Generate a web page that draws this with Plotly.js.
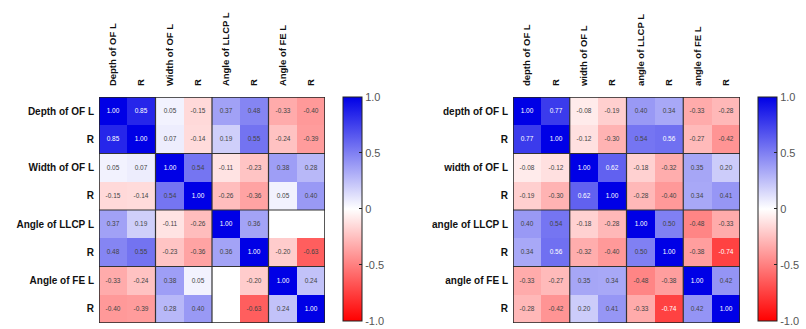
<!DOCTYPE html>
<html>
<head>
<meta charset="utf-8">
<script src="https://cdn.plot.ly/plotly-3.0.1.min.js"></script>
<style>html,body{margin:0;padding:0;background:#fff;}#chart{width:806px;height:329px;}</style>
</head>
<body>
<div id="chart"></div>
<script>
// Left matrix labels
const labelsLeft = ["Depth of OF L", "R", "Width of OF L", "R", "Angle of LLCP L", "R", "Angle of FE L", "R"];
// Right matrix labels
const labelsRight = ["depth of OF L", "R", "width of OF L", "R", "angle of LLCP L", "R", "angle of FE L", "R"];

const zLeft = [
  [1.00, 0.85, 0.05, -0.15, 0.37, 0.48, -0.33, -0.40],
  [0.85, 1.00, 0.07, -0.14, 0.19, 0.55, -0.24, -0.39],
  [0.05, 0.07, 1.00, 0.54, -0.11, -0.23, 0.38, 0.28],
  [-0.15, -0.14, 0.54, 1.00, -0.26, -0.36, 0.05, 0.40],
  [0.37, 0.19, -0.11, -0.26, 1.00, 0.36, null, null],
  [0.48, 0.55, -0.23, -0.36, 0.36, 1.00, -0.20, -0.63],
  [-0.33, -0.24, 0.38, 0.05, null, -0.20, 1.00, 0.24],
  [-0.40, -0.39, 0.28, 0.40, null, -0.63, 0.24, 1.00]
];

const zRight = [
  [1.00, 0.77, -0.08, -0.19, 0.40, 0.34, -0.33, -0.28],
  [0.77, 1.00, -0.12, -0.30, 0.54, 0.56, -0.27, -0.42],
  [-0.08, -0.12, 1.00, 0.62, -0.18, -0.32, 0.35, 0.20],
  [-0.19, -0.30, 0.62, 1.00, -0.28, -0.40, 0.34, 0.41],
  [0.40, 0.54, -0.18, -0.28, 1.00, 0.50, -0.48, -0.33],
  [0.34, 0.56, -0.32, -0.40, 0.50, 1.00, -0.38, -0.74],
  [-0.33, -0.27, 0.35, 0.34, -0.48, -0.38, 1.00, 0.42],
  [-0.28, -0.42, 0.20, 0.41, -0.33, -0.74, 0.42, 1.00]
];

const cbTickVals = [1, 0.5, 0, -0.5, -1];
const cbTickText = ["1.0", "0.5", "0", "-0.5", "-1.0"];

const idx = labelsLeft.map((_, i) => i);
const colorscale = [[0, "#ff0000"], [0.5, "#ffffff"], [1, "#0000e6"]];
const FONT = "Liberation Sans, Arial, sans-serif";

function cb(x) {
  return {
    x: x, xanchor: "left", xref: "paper",
    y: 0.365, yanchor: "middle", yref: "paper",
    len: 224 / 329, lenmode: "fraction",
    thickness: 19, thicknessmode: "pixels",
    outlinewidth: 1, outlinecolor: "#222",
    tickvals: cbTickVals, ticktext: cbTickText,
    ticks: "inside", ticklen: 3, tickcolor: "#222", tickwidth: 1,
    tickfont: {family: FONT, size: 11, color: "#555"},
    xpad: 0, ypad: 0
  };
}

function hm(z, xa, ya, cbx) {
  return {
    type: "heatmap", z: z, x: idx, y: idx,
    xaxis: xa, yaxis: ya,
    zmin: -1, zmax: 1, colorscale: colorscale,
    texttemplate: "%{z:.2f}",
    textfont: {family: FONT, size: 6.5},
    xgap: 0, ygap: 0,
    colorbar: cb(cbx),
    hoverongaps: false
  };
}

const traces = [hm(zLeft, "x", "y", 343 / 806), hm(zRight, "x2", "y2", 758 / 806)];

function xaxis(domain, labels, anchor) {
  return {
    domain: domain, anchor: anchor, side: "top",
    tickvals: idx, ticktext: labels, tickangle: -90,
    tickfont: {family: FONT, size: 9.5, color: "#111", weight: "bold"},
    ticks: "outside", ticklen: 8, tickcolor: "rgba(0,0,0,0)",
    showgrid: false, zeroline: false, showline: false,
    range: [-0.5, 7.5], fixedrange: true
  };
}
function yaxis(domain, labels, anchor) {
  return {
    domain: domain, anchor: anchor,
    tickvals: idx, ticktext: labels,
    tickfont: {family: FONT, size: 10, color: "#111", weight: "bold"},
    ticks: "outside", ticklen: 2, tickcolor: "rgba(0,0,0,0)",
    showgrid: false, zeroline: false, showline: false,
    range: [7.5, -0.5], fixedrange: true
  };
}

const yDom = [(329 - 323) / 329, (329 - 97) / 329];
const shapes = [];
[["x", "y"], ["x2", "y2"]].forEach(([xr, yr]) => {
  [1.5, 3.5, 5.5].forEach(v => {
    shapes.push({type: "line", xref: xr, yref: yr, x0: v, x1: v, y0: -0.5, y1: 7.5, line: {color: "#333", width: 1.2}});
    shapes.push({type: "line", xref: xr, yref: yr, x0: -0.5, x1: 7.5, y0: v, y1: v, line: {color: "#333", width: 1.2}});
  });
  shapes.push({type: "rect", xref: xr, yref: yr, x0: -0.5, x1: 7.5, y0: -0.5, y1: 7.5, line: {color: "#222", width: 1.5}});
});

const layout = {
  width: 806, height: 329,
  margin: {l: 0, r: 0, t: 0, b: 0},
  paper_bgcolor: "#fff", plot_bgcolor: "#fff",
  font: {family: FONT},
  showlegend: false,
  xaxis: xaxis([99 / 806, 325 / 806], labelsLeft, "y"),
  yaxis: yaxis(yDom, labelsLeft, "x"),
  xaxis2: xaxis([513 / 806, 740 / 806], labelsRight, "y2"),
  yaxis2: yaxis(yDom, labelsRight, "x2"),
  shapes: shapes
};

Plotly.newPlot("chart", traces, layout, {displayModeBar: false, staticPlot: true});
</script>
</body>
</html>
